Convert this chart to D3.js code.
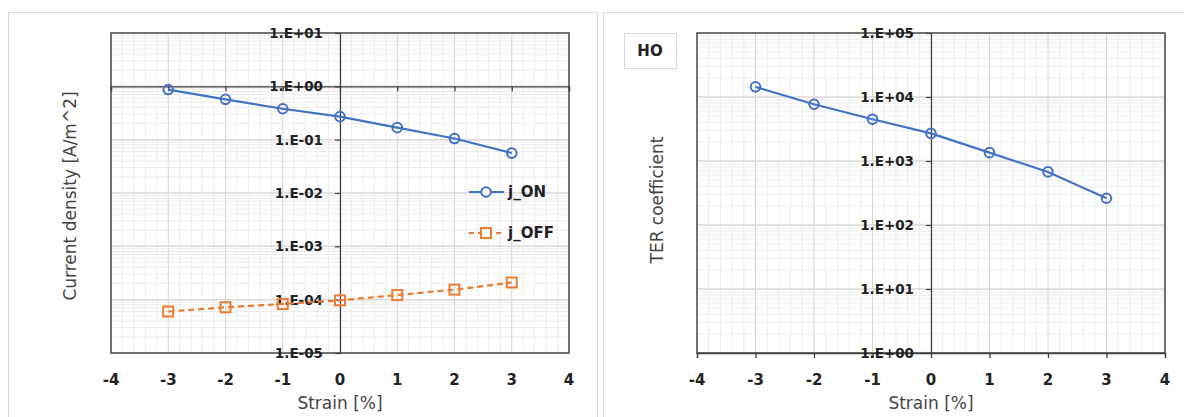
<!DOCTYPE html>
<html>
<head>
<meta charset="utf-8">
<script src="https://cdn.jsdelivr.net/npm/d3@7"></script>
<style>
  html, body { margin:0; padding:0; background:#fff; }
  svg { display:block; }
  .tick-lbl { font-family:"DejaVu Sans", sans-serif; font-weight:bold; font-size:13.5px; fill:#222; }
  .ax-title { font-family:"DejaVu Sans", sans-serif; font-size:17px; fill:#444; }
</style>
</head>
<body>
<svg id="chart" width="1184" height="417"></svg>
<script>
// strain values (x) and series
const strain  = [-3, -2, -1, 0, 1, 2, 3];
const jOn     = [0.87, 0.57, 0.38, 0.27, 0.168, 0.105, 0.056];
const jOff    = [6.0e-5, 7.2e-5, 8.3e-5, 9.7e-5, 1.22e-4, 1.54e-4, 2.1e-4];
const terCoef = [14400, 7700, 4500, 2700, 1350, 675, 262];

const xTicks      = [-4, -3, -2, -1, 0, 1, 2, 3, 4];
const leftDecades = [1e-5, 1e-4, 1e-3, 1e-2, 1e-1, 1e0, 1e1];
const rightDecades= [1e0, 1e1, 1e2, 1e3, 1e4, 1e5];

const BLUE = '#4472c4', ORANGE = '#ed7d31';

const svg = d3.select('#chart');

// panel frames
svg.append('rect').attr('x', 8.5).attr('y', 12.5).attr('width', 589).attr('height', 430)
  .attr('fill', '#fff').attr('stroke', '#d9d9d9');
svg.append('rect').attr('x', 603.5).attr('y', 12.5).attr('width', 600).attr('height', 430)
  .attr('fill', '#fff').attr('stroke', '#d9d9d9');

function fmtExp(v) {
  const e = Math.round(Math.log10(v));
  return '1.E' + (e < 0 ? '-' : '+') + String(Math.abs(e)).padStart(2, '0');
}

function drawPanel(o) {
  const x = d3.scaleLinear().domain([-4, 4]).range([o.left, o.right]);
  const y = d3.scaleLog().domain(o.yDomain).range([o.bottom, o.top]);
  const g = svg.append('g');

  // minor grid
  const xMinor = d3.range(-4, 4.001, 0.2).filter(v => Math.abs(v - Math.round(v)) > 1e-6);
  const yMinor = [];
  o.decades.slice(0, -1).forEach(d => { for (let k = 2; k <= 9; k++) yMinor.push(d * k); });
  g.selectAll('.xmin').data(xMinor).enter().append('line')
    .attr('x1', d => x(d)).attr('x2', d => x(d)).attr('y1', o.top).attr('y2', o.bottom)
    .attr('stroke', '#ececec').attr('stroke-width', 1);
  g.selectAll('.ymin').data(yMinor).enter().append('line')
    .attr('x1', o.left).attr('x2', o.right).attr('y1', d => y(d)).attr('y2', d => y(d))
    .attr('stroke', '#ececec').attr('stroke-width', 1);
  // major grid
  g.selectAll('.xmaj').data(xTicks).enter().append('line')
    .attr('x1', d => x(d)).attr('x2', d => x(d)).attr('y1', o.top).attr('y2', o.bottom)
    .attr('stroke', '#d6d6d6').attr('stroke-width', 1);
  g.selectAll('.ymaj').data(o.decades).enter().append('line')
    .attr('x1', o.left).attr('x2', o.right).attr('y1', d => y(d)).attr('y2', d => y(d))
    .attr('stroke', '#d9d9d9').attr('stroke-width', 1.5);

  // plot frame
  g.append('rect').attr('x', o.left).attr('y', o.top)
    .attr('width', o.right - o.left).attr('height', o.bottom - o.top)
    .attr('fill', 'none').attr('stroke', '#555').attr('stroke-width', 1.6);

  // x axis crosses at y = 1
  const xAxisY = y(1);
  g.append('g').attr('transform', `translate(0,${xAxisY})`)
    .call(d3.axisBottom(x).tickValues(xTicks).tickSize(5).tickFormat(''))
    .call(a => a.select('.domain').attr('stroke', '#404040').attr('stroke-width', 1.3))
    .call(a => a.selectAll('.tick line').attr('stroke', '#404040').attr('stroke-width', 1.3));
  // x tick labels sit below the plot area
  g.selectAll('.xl').data(xTicks).enter().append('text').attr('class', 'tick-lbl')
    .attr('x', d => x(d)).attr('y', 385).attr('text-anchor', 'middle')
    .style('font-size', '15px').text(d => d);

  // y axis at x = 0
  g.append('g').attr('transform', `translate(${x(0)},0)`)
    .call(d3.axisLeft(y).tickValues(o.decades).tickSize(5).tickFormat(''))
    .call(a => a.select('.domain').attr('stroke', '#404040').attr('stroke-width', 1.2))
    .call(a => a.selectAll('.tick line').attr('stroke', '#404040').attr('stroke-width', 1.2));
  g.selectAll('.yl').data(o.decades).enter().append('text').attr('class', 'tick-lbl')
    .attr('x', x(0) - 17).attr('y', d => y(d)).attr('dy', '0.36em')
    .attr('text-anchor', 'end').text(fmtExp);

  // titles
  g.append('text').attr('class', 'ax-title').attr('x', x(0)).attr('y', 409)
    .attr('text-anchor', 'middle').text('Strain [%]');
  g.append('text').attr('class', 'ax-title')
    .attr('transform', `translate(${o.yTitleX},${o.yTitleY}) rotate(-90)`)
    .attr('text-anchor', 'middle').text(o.yTitle);

  // series
  o.series.forEach(s => {
    const pts = strain.map((v, i) => [v, s.values[i]]);
    g.append('path').datum(pts)
      .attr('fill', 'none').attr('stroke', s.color).attr('stroke-width', 2.2)
      .attr('stroke-dasharray', s.dash || null)
      .attr('d', d3.line().x(d => x(d[0])).y(d => y(d[1])));
    if (s.marker === 'circle') {
      g.selectAll(null).data(pts).enter().append('circle')
        .attr('cx', d => x(d[0])).attr('cy', d => y(d[1])).attr('r', 4.8)
        .attr('fill', 'none').attr('stroke', s.color).attr('stroke-width', 2);
    } else {
      g.selectAll(null).data(pts).enter().append('rect')
        .attr('x', d => x(d[0]) - 5).attr('y', d => y(d[1]) - 5)
        .attr('width', 10).attr('height', 10)
        .attr('fill', 'none').attr('stroke', s.color).attr('stroke-width', 2);
    }
  });
  return { x, y, g };
}

const left = drawPanel({
  left: 111, right: 569, top: 33, bottom: 353,
  yDomain: [1e-5, 1e1], decades: leftDecades,
  yTitle: 'Current density [A/m^2]', yTitleX: 76, yTitleY: 196,
  series: [
    { name: 'j_ON', values: jOn, color: BLUE, marker: 'circle' },
    { name: 'j_OFF', values: jOff, color: ORANGE, marker: 'square', dash: '6,4' }
  ]
});

// legend (left panel)
const leg = [
  { name: 'j_ON', color: BLUE, marker: 'circle', y: 192 },
  { name: 'j_OFF', color: ORANGE, marker: 'square', dash: '5,4', y: 233 }
];
leg.forEach(l => {
  left.g.append('line').attr('x1', 469).attr('x2', 504).attr('y1', l.y).attr('y2', l.y)
    .attr('stroke', l.color).attr('stroke-width', 2.2).attr('stroke-dasharray', l.dash || null);
  if (l.marker === 'circle') {
    left.g.append('circle').attr('cx', 486).attr('cy', l.y).attr('r', 4.8)
      .attr('fill', '#fff').attr('stroke', l.color).attr('stroke-width', 2);
  } else {
    left.g.append('rect').attr('x', 481).attr('y', l.y - 5).attr('width', 10).attr('height', 10)
      .attr('fill', '#fff').attr('stroke', l.color).attr('stroke-width', 2);
  }
  left.g.append('text').attr('class', 'tick-lbl').attr('x', 508).attr('y', l.y).attr('dy', '0.36em')
    .style('font-size', '15px').text(l.name);
});

drawPanel({
  left: 697, right: 1165, top: 33, bottom: 353,
  yDomain: [1, 1e5], decades: rightDecades,
  yTitle: 'TER coefficient', yTitleX: 663, yTitleY: 200,
  series: [
    { name: 'TER', values: terCoef, color: BLUE, marker: 'circle' }
  ]
});

// "HO" label box
svg.append('rect').attr('x', 624.5).attr('y', 33.5).attr('width', 52).attr('height', 35)
  .attr('fill', '#fff').attr('stroke', '#d9d9d9');
svg.append('text').attr('class', 'tick-lbl').attr('x', 650).attr('y', 51).attr('dy', '0.36em')
  .attr('text-anchor', 'middle').style('font-size', '15px').text('HO');
</script>
</body>
</html>
